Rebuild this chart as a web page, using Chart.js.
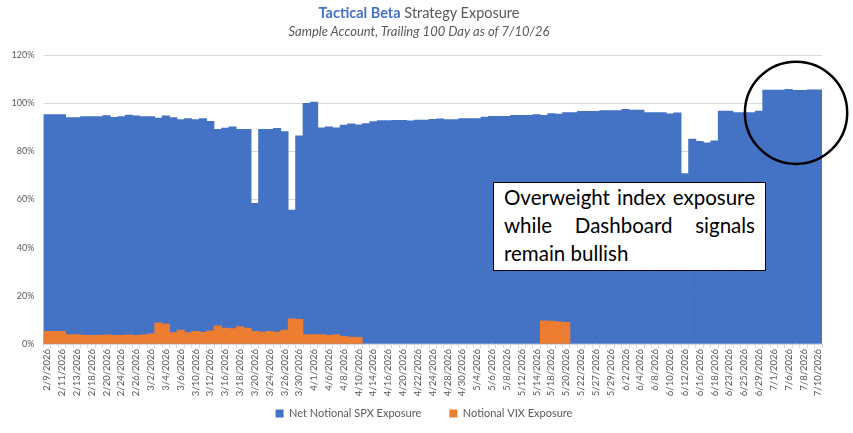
<!DOCTYPE html>
<html>
<head>
<meta charset="utf-8">
<script src="https://cdn.jsdelivr.net/npm/chart.js@4.4.0/dist/chart.umd.min.js"></script>
<style>
html,body{margin:0;padding:0;background:#fff;}
#wrap{position:relative;width:853px;height:433px;overflow:hidden;background:#fff;}
#c{position:absolute;left:0;top:0;}
.ttl{position:absolute;left:0;width:838px;text-align:center;color:#595959;font-family:Lato,'Open Sans',sans-serif;white-space:nowrap;}
#t1{top:4px;font-size:14.5px;}
#t1 b{color:#4472C4;font-weight:700;}
#t2{top:23px;font-size:13px;font-style:italic;}
#note{position:absolute;left:493px;top:182px;width:273px;height:89px;box-sizing:border-box;border:1px solid #000;background:#fff;padding:0 10px 0 10px;font-family:Lato,'Open Sans',sans-serif;font-size:20.5px;line-height:28px;color:#000;}
#note div{text-align:justify;text-align-last:justify;white-space:nowrap;}
#note div.last{text-align:left;text-align-last:left;}
</style>
</head>
<body>
<div id="wrap">
<canvas id="c" width="853" height="433"></canvas>
<div class="ttl" id="t1"><b>Tactical Beta</b> Strategy Exposure</div>
<div class="ttl" id="t2">Sample Account, Trailing 100 Day as of 7/10/26</div>
<div id="note"><div>Overweight index exposure</div><div>while Dashboard signals</div><div class="last">remain bullish</div></div>
</div>
<script>
const dates = [
"2/9/2026","2/10/2026","2/11/2026","2/12/2026","2/13/2026","2/17/2026","2/18/2026","2/19/2026","2/20/2026","2/23/2026",
"2/24/2026","2/25/2026","2/26/2026","2/27/2026","3/2/2026","3/3/2026","3/4/2026","3/5/2026","3/6/2026","3/9/2026",
"3/10/2026","3/11/2026","3/12/2026","3/13/2026","3/16/2026","3/17/2026","3/18/2026","3/19/2026","3/20/2026","3/23/2026",
"3/24/2026","3/25/2026","3/26/2026","3/27/2026","3/30/2026","3/31/2026","4/1/2026","4/2/2026","4/6/2026","4/7/2026",
"4/8/2026","4/9/2026","4/10/2026","4/13/2026","4/14/2026","4/15/2026","4/16/2026","4/17/2026","4/20/2026","4/21/2026",
"4/22/2026","4/23/2026","4/24/2026","4/27/2026","4/28/2026","4/29/2026","4/30/2026","5/1/2026","5/4/2026","5/5/2026",
"5/6/2026","5/7/2026","5/8/2026","5/11/2026","5/12/2026","5/13/2026","5/14/2026","5/15/2026","5/18/2026","5/19/2026",
"5/20/2026","5/21/2026","5/22/2026","5/26/2026","5/27/2026","5/28/2026","5/29/2026","6/1/2026","6/2/2026","6/3/2026",
"6/4/2026","6/5/2026","6/8/2026","6/9/2026","6/10/2026","6/11/2026","6/12/2026","6/15/2026","6/16/2026","6/17/2026",
"6/18/2026","6/22/2026","6/23/2026","6/24/2026","6/25/2026","6/26/2026","6/29/2026","6/30/2026","7/1/2026","7/2/2026",
"7/6/2026","7/7/2026","7/8/2026","7/9/2026","7/10/2026"
];
const spxExposure = [
95.3,95.3,95.3,94.0,94.0,94.4,94.4,94.4,94.8,94.1,
94.4,95.1,94.7,94.4,94.4,93.8,94.7,94.0,93.2,93.6,
93.2,93.6,92.5,89.1,89.7,90.2,89.1,89.1,58.4,89.1,
89.1,89.6,88.2,55.6,86.4,99.9,100.5,89.8,90.2,89.8,
90.9,91.4,91.0,91.5,92.4,92.8,92.8,92.9,92.9,92.7,
93.0,93.0,93.3,93.5,93.2,93.2,93.6,93.6,93.6,94.2,
94.5,94.5,94.5,94.9,94.9,94.9,95.3,95.0,95.7,95.5,
96.1,96.1,96.6,96.6,96.6,96.9,96.9,96.9,97.4,97.1,
97.1,96.1,96.1,96.1,95.6,96.0,70.8,85.1,84.2,83.5,
84.4,96.7,96.7,96.1,96.1,96.1,96.7,105.4,105.4,105.4,
105.7,105.3,105.3,105.5,105.5
];
const vixExposure = [
5.3,5.3,5.3,3.9,3.9,3.6,3.6,3.6,3.8,3.6,
3.6,3.8,3.6,3.8,4.2,8.8,8.3,4.7,5.8,4.7,
5.3,4.8,5.5,7.5,6.6,6.4,7.2,6.6,5.3,5.0,
5.3,5.0,5.8,10.5,10.2,3.9,3.9,3.9,3.6,3.9,
3.2,2.9,2.8,null,null,null,null,null,null,null,
null,null,null,null,null,null,null,null,null,null,
null,null,null,null,null,null,null,9.6,9.5,9.2,
9.0,null,null,null,null,null,null,null,null,null,
null,null,null,null,null,null,null,null,null,null,
null,null,null,null,null,null,null,null,null,null,
null,null,null,null,null
];
const seriesNames = ["Net Notional SPX Exposure","Notional VIX Exposure"];
const yTicks = [0,20,40,60,80,100,120];

const FONT = "Lato, 'Open Sans', sans-serif";
const GRAY = "#595959";

const circlePlugin = {
  id: 'circle',
  afterDraw(chart){
    const xs = chart.scales.x, ys = chart.scales.y;
    const step = xs.getPixelForValue(1) - xs.getPixelForValue(0);
    const cx = xs.getPixelForValue(101);
    const cy = ys.getPixelForValue(96);
    const r = step * 6.9;
    const ctx = chart.ctx;
    ctx.save();
    ctx.beginPath();
    ctx.arc(cx, cy, r, 0, Math.PI*2);
    ctx.lineWidth = 2.5;
    ctx.strokeStyle = '#000';
    ctx.stroke();
    ctx.restore();
  }
};

// nudges the legend box so its items sit where the reference has them
const legendShift = {
  id: 'legendShift',
  afterLayout(chart){
    const lg = chart.legend;
    if (!lg) return;
    lg.top -= 24;
    lg.bottom = chart.height;
    lg.left += 13; lg.right += 13;
  }
};

new Chart(document.getElementById('c'), {
  type: 'bar',
  data: {
    labels: dates,
    datasets: [
      {label: seriesNames[0], data: spxExposure, backgroundColor: '#4472C4', order: 1, grouped: false,
       barPercentage: 1, categoryPercentage: 1, borderWidth: 0},
      {label: seriesNames[1], data: vixExposure, backgroundColor: '#ED7D31', order: 0, grouped: false,
       barPercentage: 1, categoryPercentage: 1, borderWidth: 0}
    ]
  },
  options: {
    responsive: false,
    animation: false,
    devicePixelRatio: 1,
    layout: {padding: {top: 55, right: 31, left: 0, bottom: 0}},
    plugins: {
      title: {display: false},
      tooltip: {enabled: false},
      legend: {
        position: 'bottom',
        maxHeight: 29,
        labels: {
          boxWidth: 8, boxHeight: 8, padding: 28, color: GRAY,
          font: {family: FONT, size: 11},
          sort: (a, b) => a.datasetIndex - b.datasetIndex
        }
      }
    },
    scales: {
      x: {
        grid: {display: true, drawOnChartArea: false, drawTicks: true, tickLength: 4, color: '#d9d9d9', offset: true},
        border: {display: true, color: '#d9d9d9'},
        ticks: {
          autoSkip: false, maxRotation: 90, minRotation: 90, padding: 1,
          color: GRAY, font: {family: FONT, size: 9.5},
          callback: function(v, i){ return i % 2 === 0 ? dates[i] : ''; }
        },
        afterFit(scale){ scale.height = 60; }
      },
      y: {
        min: 0, max: 120,
        afterBuildTicks(scale){ scale.ticks = yTicks.map(v => ({value: v})); },
        grid: {color: '#d9d9d9', drawTicks: false},
        border: {display: false},
        ticks: {color: GRAY, font: {family: FONT, size: 9}, padding: 9,
          callback: v => v + '%'},
        afterFit(scale){ scale.width = 43.5; }
      }
    }
  },
  plugins: [circlePlugin, legendShift]
});
</script>
</body>
</html>
